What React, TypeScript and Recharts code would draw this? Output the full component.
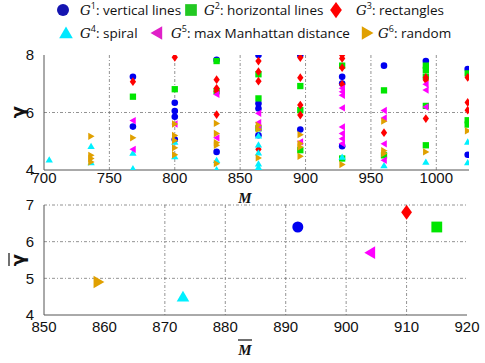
import React from 'react';
import { ScatterChart, Scatter, XAxis, YAxis, CartesianGrid } from 'recharts';

// top panel: gamma for every run, per generator
const g1Points = [
  { M: 768, gamma: 7.24 }, { M: 768, gamma: 5.51 },
  { M: 800, gamma: 6.34 }, { M: 800, gamma: 6.05 }, { M: 800, gamma: 5.85 }, { M: 800, gamma: 5.06 },
  { M: 832, gamma: 7.83 }, { M: 832, gamma: 4.63 },
  { M: 864, gamma: 8.0 }, { M: 864, gamma: 6.31 }, { M: 864, gamma: 6.14 }, { M: 864, gamma: 5.21 },
  { M: 896, gamma: 8.0 }, { M: 896, gamma: 5.41 },
  { M: 928, gamma: 7.24 }, { M: 928, gamma: 7.01 }, { M: 928, gamma: 4.83 },
  { M: 960, gamma: 7.63 },
  { M: 992, gamma: 7.79 },
  { M: 1024, gamma: 7.51 }, { M: 1024, gamma: 4.53 },
];

const g2Points = [
  { M: 768, gamma: 6.55 },
  { M: 800, gamma: 6.81 },
  { M: 832, gamma: 7.79 }, { M: 832, gamma: 6.74 },
  { M: 864, gamma: 7.33 }, { M: 864, gamma: 6.49 }, { M: 864, gamma: 5.45 },
  { M: 896, gamma: 6.92 }, { M: 896, gamma: 6.08 }, { M: 896, gamma: 4.69 },
  { M: 928, gamma: 7.63 }, { M: 928, gamma: 4.4 },
  { M: 960, gamma: 6.77 }, { M: 960, gamma: 4.51 },
  { M: 992, gamma: 7.63 }, { M: 992, gamma: 7.48 }, { M: 992, gamma: 7.25 }, { M: 992, gamma: 6.23 }, { M: 992, gamma: 4.86 },
  { M: 1024, gamma: 7.36 }, { M: 1024, gamma: 5.73 }, { M: 1024, gamma: 5.58 },
];

const g3Points = [
  { M: 768, gamma: 7.07 },
  { M: 800, gamma: 7.92 },
  { M: 832, gamma: 7.14 }, { M: 832, gamma: 6.84 }, { M: 832, gamma: 6.74 }, { M: 832, gamma: 5.93 },
  { M: 864, gamma: 7.79 }, { M: 864, gamma: 7.42 }, { M: 864, gamma: 7.09 }, { M: 864, gamma: 4.72 },
  { M: 896, gamma: 7.91 }, { M: 896, gamma: 7.21 }, { M: 896, gamma: 6.26 }, { M: 896, gamma: 5.91 },
  { M: 928, gamma: 8.0 }, { M: 928, gamma: 7.88 }, { M: 928, gamma: 7.56 }, { M: 928, gamma: 6.98 },
  { M: 960, gamma: 5.3 },
  { M: 992, gamma: 7.22 }, { M: 992, gamma: 7.13 }, { M: 992, gamma: 5.79 },
  { M: 1024, gamma: 7.22 }, { M: 1024, gamma: 6.35 }, { M: 1024, gamma: 6.08 },
];

const g4Points = [
  { M: 704, gamma: 4.36 },
  { M: 736, gamma: 4.83 }, { M: 736, gamma: 4.26 },
  { M: 768, gamma: 4.59 }, { M: 768, gamma: 4.05 },
  { M: 800, gamma: 4.98 }, { M: 800, gamma: 4.47 },
  { M: 832, gamma: 4.34 }, { M: 832, gamma: 4.02 },
  { M: 864, gamma: 5.19 }, { M: 864, gamma: 4.88 }, { M: 864, gamma: 4.6 }, { M: 864, gamma: 4.22 }, { M: 864, gamma: 4.1 },
  { M: 928, gamma: 4.45 },
  { M: 960, gamma: 4.16 },
  { M: 992, gamma: 4.28 },
  { M: 1024, gamma: 4.98 }, { M: 1024, gamma: 4.26 },
];

const g5Points = [
  { M: 768, gamma: 5.72 }, { M: 768, gamma: 4.72 },
  { M: 800, gamma: 5.6 },
  { M: 832, gamma: 6.63 }, { M: 832, gamma: 5.12 },
  { M: 864, gamma: 5.97 }, { M: 864, gamma: 5.65 }, { M: 864, gamma: 5.47 },
  { M: 896, gamma: 4.98 },
  { M: 928, gamma: 6.84 }, { M: 928, gamma: 6.72 }, { M: 928, gamma: 6.6 }, { M: 928, gamma: 6.16 },
  { M: 928, gamma: 5.5 }, { M: 928, gamma: 5.27 }, { M: 928, gamma: 5.09 }, { M: 928, gamma: 4.92 },
  { M: 960, gamma: 6.07 }, { M: 960, gamma: 5.81 }, { M: 960, gamma: 4.91 }, { M: 960, gamma: 4.34 },
  { M: 992, gamma: 6.98 }, { M: 992, gamma: 6.78 }, { M: 992, gamma: 6.19 },
];

const g6Points = [
  { M: 736, gamma: 5.17 }, { M: 736, gamma: 4.51 }, { M: 736, gamma: 4.4 }, { M: 736, gamma: 4.28 },
  { M: 768, gamma: 5.12 },
  { M: 800, gamma: 5.6 }, { M: 800, gamma: 5.2 }, { M: 800, gamma: 5.03 }, { M: 800, gamma: 4.77 }, { M: 800, gamma: 4.53 },
  { M: 832, gamma: 5.62 }, { M: 832, gamma: 5.27 }, { M: 832, gamma: 4.95 }, { M: 832, gamma: 4.86 }, { M: 832, gamma: 4.22 },
  { M: 864, gamma: 5.56 }, { M: 864, gamma: 5.42 }, { M: 864, gamma: 4.42 },
  { M: 896, gamma: 5.23 }, { M: 896, gamma: 4.92 }, { M: 896, gamma: 4.8 }, { M: 896, gamma: 4.48 },
  { M: 928, gamma: 4.19 },
  { M: 960, gamma: 5.7 }, { M: 960, gamma: 4.67 }, { M: 960, gamma: 4.57 },
  { M: 992, gamma: 4.63 },
  { M: 1024, gamma: 5.36 },
];

// bottom panel: averages
const meanM = [892, 915, 910, 873, 904, 859];
const meanGamma = [6.4, 6.4, 6.8, 4.5, 5.7, 4.9];

const topXTicks = [700, 750, 800, 850, 900, 950, 1000];
const topYTicks = [4, 6, 8];
const bottomXTicks = [850, 860, 870, 880, 890, 900, 910, 920];
const bottomYTicks = [4, 5, 6, 7];

const series = [
  { key: 'G1', sup: '1', label: 'vertical lines', shape: 'circle', color: '#0000f0', legendColor: '#1414b0', points: g1Points },
  { key: 'G2', sup: '2', label: 'horizontal lines', shape: 'square', color: '#00e600', legendColor: '#22c822', points: g2Points },
  { key: 'G3', sup: '3', label: 'rectangles', shape: 'diamond', color: '#ff0000', legendColor: '#ff0000', points: g3Points },
  { key: 'G4', sup: '4', label: 'spiral', shape: 'up', color: '#00f0ff', legendColor: '#00e8ff', points: g4Points },
  { key: 'G5', sup: '5', label: 'max Manhattan distance', shape: 'left', color: '#ff00ff', legendColor: '#e020c8', points: g5Points },
  { key: 'G6', sup: '6', label: 'random', shape: 'right', color: '#e0a000', legendColor: '#e0a000', points: g6Points },
];

function Marker({ kind, cx, cy, r, color }: any) {
  if (kind === 'circle') return <circle cx={cx} cy={cy} r={r} fill={color} />;
  if (kind === 'square') return <rect x={cx - r * 0.9} y={cy - r * 0.9} width={r * 1.8} height={r * 1.8} fill={color} />;
  if (kind === 'diamond')
    return <polygon points={`${cx},${cy - r * 1.25} ${cx + r * 0.9},${cy} ${cx},${cy + r * 1.25} ${cx - r * 0.9},${cy}`} fill={color} />;
  if (kind === 'up')
    return <polygon points={`${cx},${cy - r} ${cx + r * 1.05},${cy + r * 0.8} ${cx - r * 1.05},${cy + r * 0.8}`} fill={color} />;
  if (kind === 'left')
    return <polygon points={`${cx - r},${cy} ${cx + r * 0.8},${cy - r * 1.05} ${cx + r * 0.8},${cy + r * 1.05}`} fill={color} />;
  return <polygon points={`${cx + r},${cy} ${cx - r * 0.8},${cy - r * 1.05} ${cx - r * 0.8},${cy + r * 1.05}`} fill={color} />;
}

const shapeFor = (kind: string, r: number, color: string) => (p: any) =>
  <Marker kind={kind} cx={p.cx} cy={p.cy} r={r} color={color} />;

const tickStyle = { fontSize: 15, fill: '#111', fontFamily: 'Liberation Sans, Arial, sans-serif' };
const gridProps = { stroke: '#777', strokeDasharray: '3 2 1 2', strokeWidth: 0.8 };

const legendPos = [
  { mx: 63, my: 10, tx: 80, ty: 15 },
  { mx: 191, my: 10, tx: 204, ty: 15 },
  { mx: 336, my: 10, tx: 356, ty: 15 },
  { mx: 66, my: 33, tx: 80, ty: 38 },
  { mx: 157, my: 33, tx: 171, ty: 38 },
  { mx: 367, my: 33, tx: 378, ty: 38 },
];

export default function App() {
  return (
    <div style={{ position: 'absolute', left: 0, top: 0, width: 485, height: 363, background: '#fff' }}>
      <div style={{ position: 'absolute', left: 0, top: 0 }}>
        <ScatterChart width={485} height={205} margin={{ top: 55, right: 16, left: 0, bottom: 5 }}>
          <CartesianGrid {...gridProps} horizontalValues={[6]} verticalValues={[750, 800, 850, 900, 950, 1000]} />
          <XAxis type="number" dataKey="M" domain={[700, 1025]} ticks={topXTicks} allowDataOverflow
            tickLine={false} axisLine={{ stroke: '#555' }} tick={tickStyle} height={30} tickMargin={-4} />
          <YAxis type="number" dataKey="gamma" domain={[4, 8]} ticks={topYTicks} allowDataOverflow
            tickLine={false} axisLine={{ stroke: '#555' }} tick={tickStyle} width={44} tickMargin={4} />
          {series.map((s) => (
            <Scatter key={s.key} data={s.points} isAnimationActive={false}
              shape={shapeFor(s.shape, s.shape === 'circle' ? 3.3 : 3.5, s.color)} />
          ))}
        </ScatterChart>
      </div>
      <div style={{ position: 'absolute', left: 0, top: 180 }}>
        <ScatterChart width={485} height={183} margin={{ top: 25, right: 18, left: 0, bottom: 18 }}>
          <CartesianGrid {...gridProps} horizontalValues={[5, 6, 7]} verticalValues={[870, 880, 890, 900, 910]} />
          <XAxis type="number" dataKey="M" domain={[850, 920]} ticks={bottomXTicks} allowDataOverflow
            tickLine={false} axisLine={{ stroke: '#555' }} tick={tickStyle} height={30} tickMargin={0} />
          <YAxis type="number" dataKey="gamma" domain={[4, 7]} ticks={bottomYTicks} allowDataOverflow
            tickLine={false} axisLine={{ stroke: '#555' }} tick={tickStyle} width={44} tickMargin={4} />
          {series.map((s, i) => (
            <Scatter key={s.key} data={[{ M: meanM[i], gamma: meanGamma[i] }]} isAnimationActive={false}
              shape={shapeFor(s.shape, s.shape === 'circle' ? 5.5 : 6, s.color)} />
          ))}
        </ScatterChart>
      </div>
      <svg width={485} height={363} style={{ position: 'absolute', left: 0, top: 0, pointerEvents: 'none' }}>
        {series.map((s, i) => {
          const p = legendPos[i];
          return (
            <g key={s.key}>
              <Marker kind={s.shape} cx={p.mx} cy={p.my} r={s.shape === 'circle' ? 6 : 6.5} color={s.legendColor} />
              <text x={p.tx} y={p.ty} fontSize={13.5} fill="#111" fontFamily="Open Sans, sans-serif">
                <tspan fontFamily="DejaVu Serif, serif" fontStyle="italic">G</tspan>
                <tspan fontSize={9} dy={-6}>{s.sup}</tspan>
                <tspan dy={6}>{': ' + s.label}</tspan>
              </text>
            </g>
          );
        })}
        <text x={17} y={112} transform="rotate(-90 17 112)" textAnchor="middle" dominantBaseline="central"
          fontSize={18} fontWeight="bold" fill="#111" fontFamily="DejaVu Sans, sans-serif">γ</text>
        <text x={245} y={203} textAnchor="middle" fontSize={15} fontWeight="bold" fontStyle="italic" fill="#111"
          fontFamily="Liberation Serif, serif">M</text>
        <text x={17} y={260} transform="rotate(-90 17 260)" textAnchor="middle" dominantBaseline="central"
          fontSize={18} fontWeight="bold" fill="#111" fontFamily="DejaVu Sans, sans-serif">γ</text>
        <line x1={9} y1={253} x2={9} y2={266} stroke="#111" strokeWidth={1.2} />
        <text x={245} y={355} textAnchor="middle" fontSize={15} fontWeight="bold" fontStyle="italic" fill="#111"
          fontFamily="Liberation Serif, serif">M</text>
        <line x1={238} y1={340} x2={252} y2={340} stroke="#111" strokeWidth={1.2} />
      </svg>
    </div>
  );
}
